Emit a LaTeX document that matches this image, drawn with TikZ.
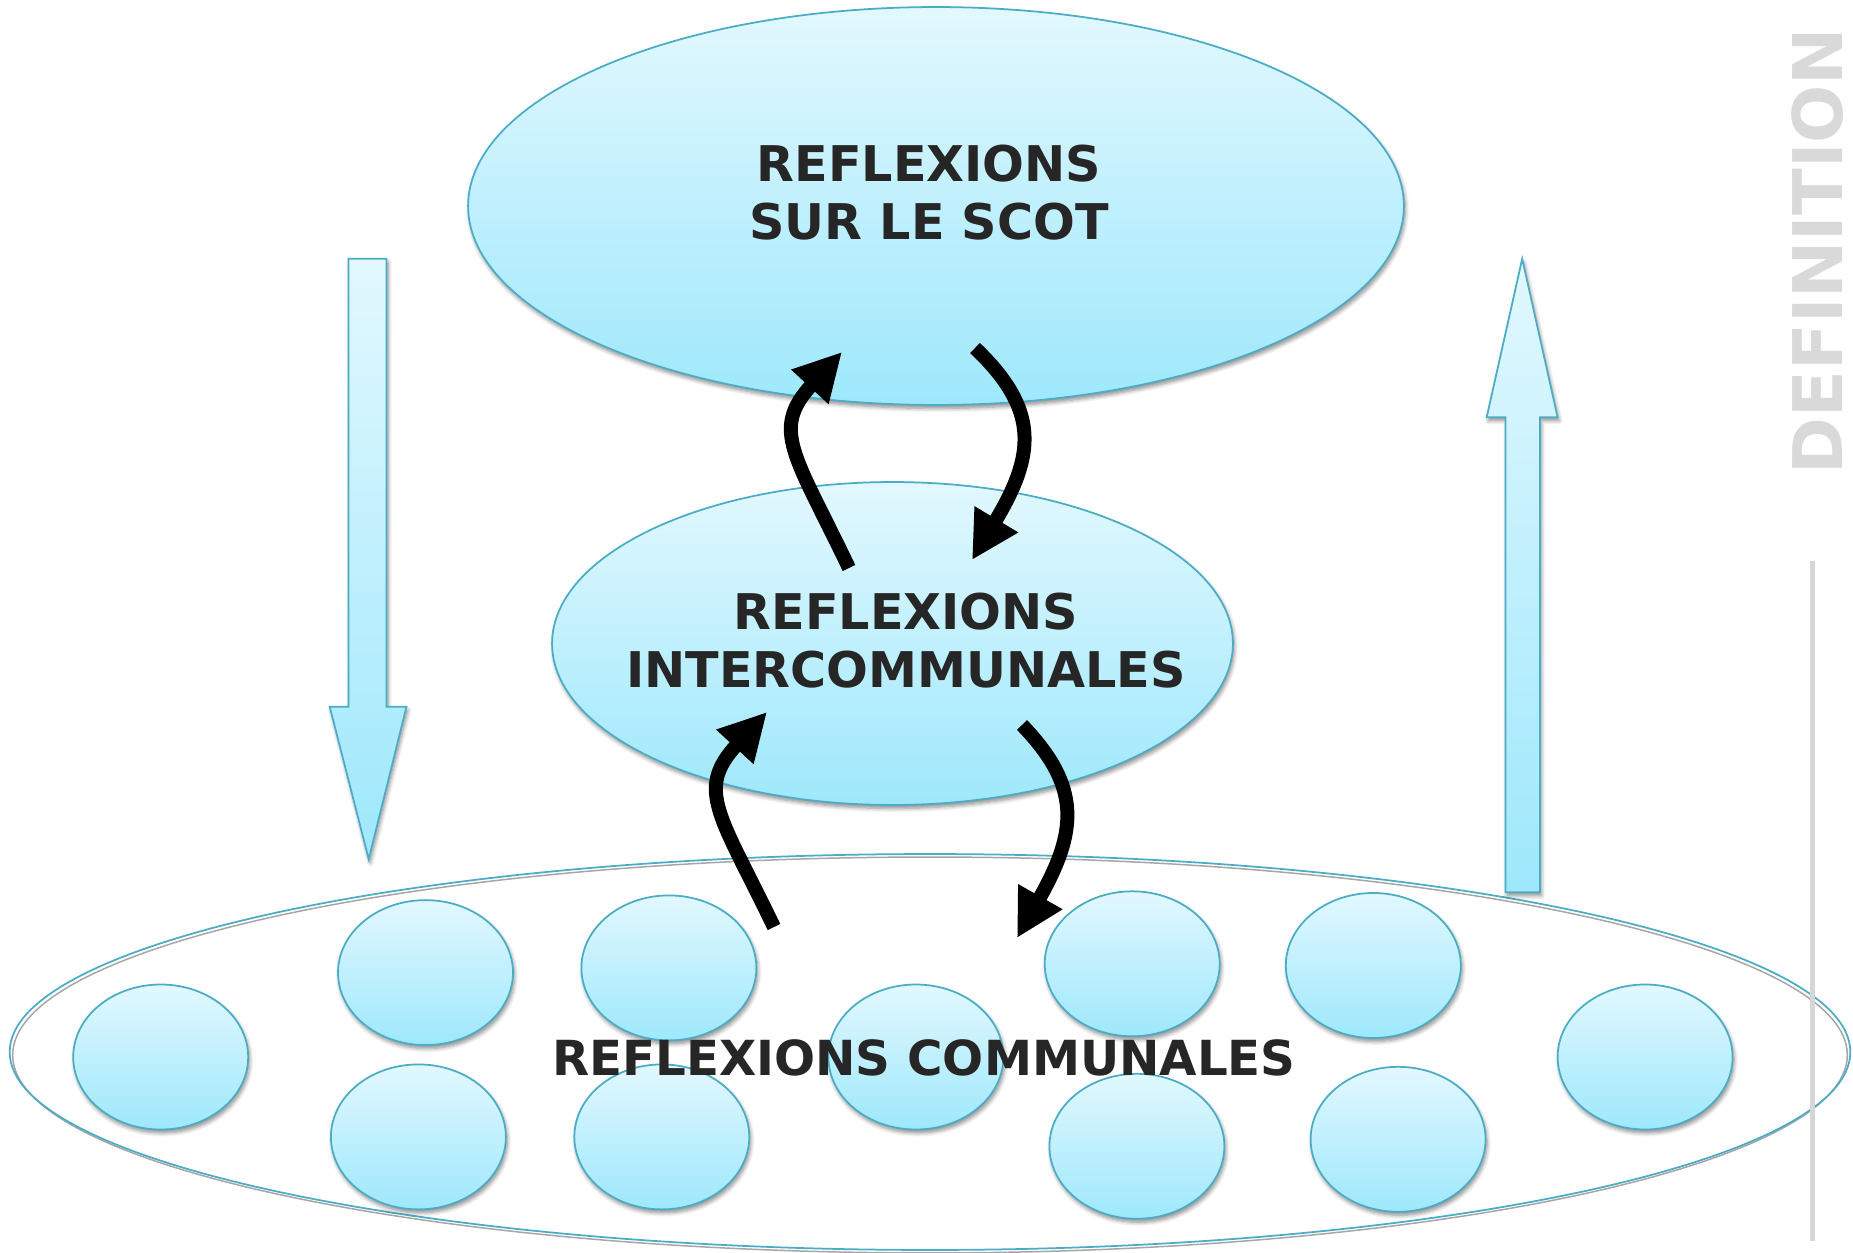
\documentclass[tikz,border=0pt]{standalone}
\usepackage{fontspec}
\setmainfont{DejaVu Sans}
\usetikzlibrary{shapes.geometric,shadows,shadows.blur,arrows.meta}
\definecolor{aquaTop}{RGB}{226,248,254}
\definecolor{aquaBot}{RGB}{158,232,252}
\definecolor{aquaLine}{RGB}{75,172,198}
\definecolor{txtDark}{RGB}{38,38,38}
\definecolor{defGray}{RGB}{217,217,217}
\definecolor{sepGray}{RGB}{214,214,214}
\begin{document}
\begin{tikzpicture}[x=0.02cm, y=-0.02cm,
  softshadow/.style={blur shadow={shadow xshift=0.03cm, shadow yshift=-0.07cm, shadow blur radius=0.08cm, shadow blur steps=6, shadow opacity=45}},
  bubble/.style={ellipse, draw=aquaLine, line width=0.035cm, top color=aquaTop, bottom color=aquaBot, inner sep=0pt, softshadow},
  commune/.style={bubble, minimum width=3.5cm, minimum height=2.9cm},
  lbl/.style={font=\fontsize{28}{33}\selectfont\bfseries, text=txtDark, align=center, inner sep=0pt},
  blockarrow/.style={draw=aquaLine, line width=0.035cm, top color=aquaTop, bottom color=aquaBot, softshadow},
  curvearrow/.style={line width=0.28cm, black, -{Triangle[length=0.95cm,width=0.95cm]}}
]
\useasboundingbox (0,0) rectangle (1853,1253);

% big container ellipse (double outline)
\node[ellipse, draw=gray!70, line width=0.03cm, inner sep=0pt, minimum width=36.7cm, minimum height=7.92cm] (communesShadow) at (930,1055) {};
\node[ellipse, draw=aquaLine, line width=0.035cm, inner sep=0pt, minimum width=36.82cm, minimum height=7.92cm] (communes) at (930,1052) {};

% top and middle ellipses
\node[bubble, minimum width=18.72cm, minimum height=7.96cm] (scot) at (936,206) {};
\node[bubble, minimum width=13.62cm, minimum height=6.46cm] (inter) at (892.5,643.5) {};

% communes
\node[commune] (c1) at (160.7,1057) {};
\node[commune] (c2) at (425.5,972.6) {};
\node[commune] (c3) at (668.9,967.9) {};
\node[commune] (c4) at (418.4,1136.9) {};
\node[commune] (c5) at (661.8,1136.9) {};
\node[commune] (c6) at (915.9,1057) {};
\node[commune] (c7) at (1132.2,963.8) {};
\node[commune] (c8) at (1136.9,1146.3) {};
\node[commune] (c9) at (1373.3,965.5) {};
\node[commune] (c10) at (1398.1,1139.3) {};
\node[commune] (c11) at (1645.1,1057) {};

% block arrows
\path[blockarrow] (348.6,258.8) -- (386.5,258.8) -- (386.5,706.7) -- (406.5,706.7) -- (368.7,859.2) -- (329.7,706.7) -- (348.6,706.7) -- cycle;
\path[blockarrow] (1522.2,258.8) -- (1557.6,417.2) -- (1539.9,417.2) -- (1539.9,892.3) -- (1505.6,892.3) -- (1505.6,417.2) -- (1486.7,417.2) -- cycle;

% labels
\node[lbl] (tScot) at (929,192.5) {REFLEXIONS\\SUR LE SCOT};
\node[lbl] (tInter) at (906,640.5) {REFLEXIONS\\INTERCOMMUNALES};
\node[lbl, anchor=base, font=\fontsize{27.5}{33}\selectfont\bfseries] (tComm) at (924,1075) {REFLEXIONS COMMUNALES};

% curved black arrows
\coordinate (aS) at (849,568);  \coordinate (aT) at (842,352);
\coordinate (bS) at (975,348);  \coordinate (bT) at (972,560);
\coordinate (cS) at (774,927);  \coordinate (cT) at (767,712);
\coordinate (dS) at (1022,725); \coordinate (dT) at (1017,938);
\draw[curvearrow] (aS) .. controls (795,455) and (770,430) .. (aT);
\draw[curvearrow] (bS) .. controls (1040,410) and (1035,455) .. (bT);
\draw[curvearrow] (cS) .. controls (720,815) and (695,790) .. (cT);
\draw[curvearrow] (dS) .. controls (1082,787) and (1077,832) .. (dT);

% DEFINITION side label and separator
\node[font=\fontsize{39}{41}\selectfont\bfseries, text=defGray, rotate=90, inner sep=0pt] (def) at (1818,251) {DEFINITION};
\coordinate (g1) at (1812,561);
\coordinate (g2) at (1812,1241);
\draw[sepGray, line width=0.1cm] (g1) -- (g2);
\end{tikzpicture}
\end{document}
